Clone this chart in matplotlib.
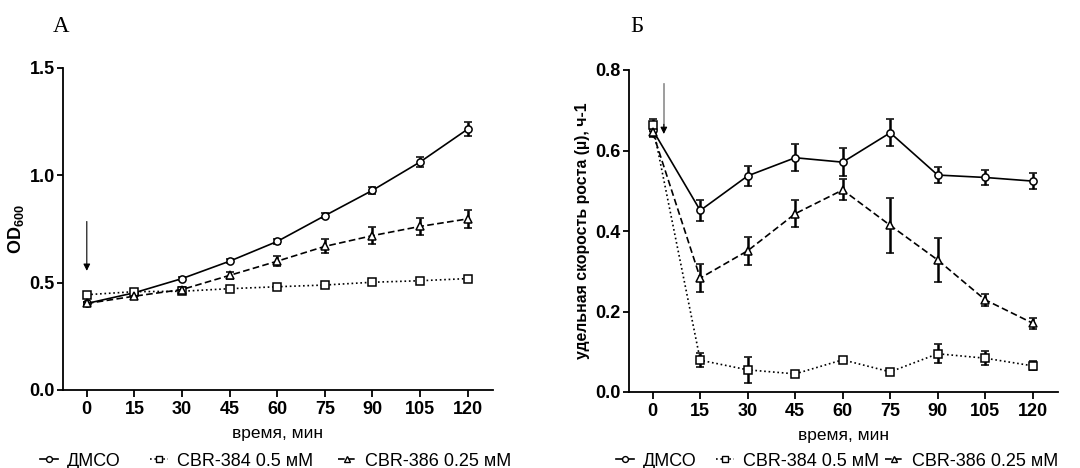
import numpy as np
import matplotlib
matplotlib.use("Agg")
import matplotlib.pyplot as plt
from matplotlib.lines import Line2D
from matplotlib.ticker import FormatStrFormatter

plt.rcParams['font.family'] = ['Liberation Sans', 'DejaVu Sans']
plt.rcParams['mathtext.fontset'] = 'custom'
plt.rcParams['mathtext.rm'] = 'Liberation Sans'
plt.rcParams['mathtext.bf'] = 'Liberation Sans:bold'

# время отбора проб, мин
time_min = [0, 15, 30, 45, 60, 75, 90, 105, 120]
series_names = ['ДМСО', 'CBR-384 0.5 мМ', 'CBR-386 0.25 мМ']

# А: оптическая плотность OD600
od_dmso = [0.403, 0.453, 0.519, 0.600, 0.692, 0.812, 0.930, 1.062, 1.215]
od_dmso_err = [0.008, 0.008, 0.008, 0.010, 0.010, 0.012, 0.015, 0.022, 0.033]
od_384 = [0.444, 0.458, 0.460, 0.472, 0.481, 0.489, 0.502, 0.509, 0.519]
od_384_err = [0.006, 0.006, 0.008, 0.006, 0.006, 0.006, 0.006, 0.006, 0.006]
od_386 = [0.403, 0.437, 0.468, 0.534, 0.600, 0.669, 0.719, 0.762, 0.797]
od_386_err = [0.008, 0.008, 0.010, 0.018, 0.022, 0.033, 0.040, 0.038, 0.042]

# Б: удельная скорость роста
mu_dmso = [0.651, 0.451, 0.537, 0.582, 0.571, 0.644, 0.539, 0.533, 0.524]
mu_dmso_err = [0.015, 0.026, 0.025, 0.034, 0.034, 0.034, 0.019, 0.019, 0.019]
mu_384 = [0.663, 0.079, 0.055, 0.045, 0.080, 0.050, 0.095, 0.084, 0.065]
mu_384_err = [0.015, 0.017, 0.033, 0.005, 0.005, 0.008, 0.024, 0.017, 0.011]
mu_386 = [0.645, 0.283, 0.351, 0.443, 0.502, 0.414, 0.328, 0.229, 0.171]
mu_386_err = [0.012, 0.035, 0.035, 0.033, 0.026, 0.069, 0.055, 0.015, 0.014]

styles = [
    dict(marker='o', linestyle='-'),
    dict(marker='s', linestyle=':'),
    dict(marker='^', linestyle=(0, (4, 2))),
]

fig = plt.figure(figsize=(10.8, 4.68), dpi=100)
axA = fig.add_axes([63 / 1080, 78 / 468, 430 / 1080, 322 / 468])
axB = fig.add_axes([629 / 1080, 76 / 468, 429 / 1080, 322 / 468])


def draw(ax, data, yticks):
    for (y, e), st in zip(data, styles):
        ax.errorbar(time_min, y, yerr=e, color='black', lw=1.2,
                    marker=st['marker'], linestyle=st['linestyle'],
                    markersize=5.2, markerfacecolor='white',
                    markeredgecolor='black', mew=1.1,
                    elinewidth=1.8, capsize=3.2, capthick=1.8, zorder=3)
    ax.set_xlim(-7.5, 128)
    ax.set_ylim(yticks[0], yticks[-1])
    ax.set_xticks(time_min)
    ax.set_yticks(yticks)
    ax.yaxis.set_major_formatter(FormatStrFormatter('%.1f'))
    ax.spines['top'].set_visible(False)
    ax.spines['right'].set_visible(False)
    ax.spines['left'].set_linewidth(1.3)
    ax.spines['bottom'].set_linewidth(1.3)
    ax.tick_params(axis='x', width=1.3, length=5, labelsize=13, pad=3)
    ax.tick_params(axis='y', width=1.3, length=4.5, labelsize=13, pad=1.5)
    for lab in ax.get_xticklabels() + ax.get_yticklabels():
        lab.set_fontweight('bold')
    ax.set_xlabel('время, мин', fontsize=12.5, labelpad=6)


draw(axA, [(od_dmso, od_dmso_err), (od_384, od_384_err), (od_386, od_386_err)],
     [0.0, 0.5, 1.0, 1.5])
axA.set_ylabel(r'$\mathbf{OD_{600}}$', fontsize=13)
axA.yaxis.set_label_coords(-0.086, 0.5)
axA.annotate('', xy=(0, 0.555), xytext=(0, 0.785),
             arrowprops=dict(arrowstyle='-|>', color='black', lw=0.8,
                             mutation_scale=10, shrinkA=0, shrinkB=0))

draw(axB, [(mu_dmso, mu_dmso_err), (mu_384, mu_384_err), (mu_386, mu_386_err)],
     [0.0, 0.2, 0.4, 0.6, 0.8])
axB.set_ylabel('удельная скорость роста (µ), ч-1', fontsize=11.4, fontweight='bold')
axB.yaxis.set_label_coords(-0.09, 0.5)
# серый стержень стрелки с чёрным наконечником
axB.plot([3.5, 3.5], [0.765, 0.66], color='#8c8c8c', lw=1.2, zorder=4)
axB.annotate('', xy=(3.5, 0.641), xytext=(3.5, 0.665),
             arrowprops=dict(arrowstyle='-|>', color='black', lw=0.8,
                             mutation_scale=10, shrinkA=0, shrinkB=0), zorder=5)

# подписи панелей
fig.text(61 / 1080, 1 - 26 / 468, 'А', family='Liberation Serif', fontsize=16.5,
         ha='center', va='center')
fig.text(637 / 1080, 1 - 26 / 468, 'Б', family='Liberation Serif', fontsize=16.5,
         ha='center', va='center')

# легенды под панелями, каждый элемент ставится отдельно
handles = [Line2D([], [], color='black', lw=1.2, marker=st['marker'],
                  linestyle=st['linestyle'], markersize=4.2,
                  markerfacecolor='white', mew=1.0) for st in styles]
legend_x = [[40, 150, 338], [616, 716, 885]]
for xs in legend_x:
    for h, name, x0 in zip(handles, series_names, xs):
        fig.legend([h], [name], loc='center left',
                   bbox_to_anchor=(x0 / 1080, 1 - 461 / 468),
                   frameon=False, fontsize=13, handlelength=1.0,
                   handletextpad=0.5, borderpad=0, borderaxespad=0)

fig.savefig('out.png', dpi=100)
